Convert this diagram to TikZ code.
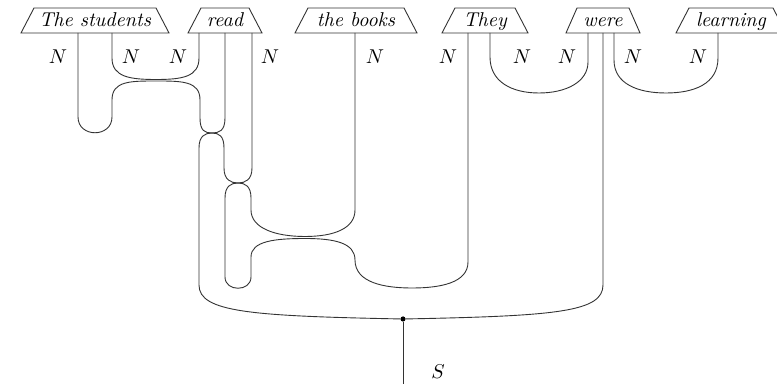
\documentclass[tikz,border=0pt]{standalone}
\begin{document}
\begin{tikzpicture}[x=0.5pt,y=-0.5pt,
  wire/.style={line width=0.45pt,draw=black!80},
  boxline/.style={line width=0.45pt,draw=black!80},
  wordtext/.style={anchor=base,inner sep=0pt,font=\itshape},
  typelabel/.style={inner sep=0pt},
  spider/.style={circle,fill=black,inner sep=0pt,minimum size=2.6pt}]
\useasboundingbox (0,0) rectangle (777,384);

% word boxes: centre, half top width, half bottom width
\newcommand\wordbox[5]{%
  \draw[boxline] (#2-#3,8) -- (#2+#3,8) -- (#2+#4,33) -- (#2-#4,33) -- cycle;
  \node[wordtext] (#1) at (#2,27) {#5};}
\wordbox{students}{95}{61}{74}{The students}
\wordbox{read}{225}{24}{37}{read}
\wordbox{books}{356}{48}{61}{the books}
\wordbox{they}{485}{30}{43}{They}
\wordbox{were}{603}{26}{37}{were}
\wordbox{learning}{731}{42}{55}{learning}

% wire ends under the boxes
\coordinate (s1) at (78,33);  \coordinate (s2) at (112,33);
\coordinate (r1) at (199,33); \coordinate (r2) at (225,33); \coordinate (r3) at (252,33);
\coordinate (b1) at (355,33);
\coordinate (t1) at (468,33); \coordinate (t2) at (490,33);
\coordinate (w1) at (588,33); \coordinate (w2) at (603,33); \coordinate (w3) at (614,33);
\coordinate (l1) at (718,33);

% junctions
\coordinate (j1) at (212,133);
\coordinate (j2) at (238,183);
\node[spider] (dot) at (403,319) {};
\coordinate (out) at (403,390);

% type labels
\foreach \x/\n in {58/a,131/b,178/c,270/d,375/e,448/f,522/g,567/h,633/i,698/j}
  \node[typelabel] (lab\n) at (\x,57) {$N$};
\node[typelabel] (labS) at (438,372) {$S$};

% students: cup, then up over to the lens
\draw[wire] (s1) -- (78,117) .. controls (78,138) and (112,138) .. (112,117)
  -- (112,100) .. controls (112,81) and (130,81) .. (156,81)
  .. controls (182,81) and (200,81) .. (200,100) -- (200,118)
  .. controls (200,131) and (205,133) .. (j1);
% cap between students and read
\draw[wire] (s2) -- (112,58) .. controls (112,77) and (130,79.5) .. (156,79.5)
  .. controls (182,79.5) and (199,77) .. (199,58) -- (r1);
% read, middle wire
\draw[wire] (r2) -- (225,118) .. controls (225,131) and (219,133) .. (j1);
% lens 1 outputs
\draw[wire] (j1) .. controls (205,133) and (199,136) .. (199,148) -- (199,285)
  .. controls (199,312) and (250,316) .. (dot);
\draw[wire] (j1) .. controls (219,133) and (224,136) .. (224,148) -- (224,168)
  .. controls (224,180) and (231,183) .. (j2);
% read, right wire
\draw[wire] (r3) -- (252,168) .. controls (252,180) and (245,183) .. (j2);
% lens 2 outputs
\draw[wire] (j2) .. controls (231,183) and (225,186) .. (225,198) -- (225,277)
  .. controls (225,292) and (251,292) .. (251,277) -- (251,257)
  .. controls (251,241) and (275,238.5) .. (305,238.5)
  .. controls (335,238.5) and (355,243) .. (355,260)
  .. controls (355,283) and (385,288) .. (412,288)
  .. controls (440,288) and (468,283) .. (468,262) -- (t1);
\draw[wire] (j2) .. controls (245,183) and (251,186) .. (251,198) -- (251,210)
  .. controls (251,228) and (275,236.5) .. (305,236.5)
  .. controls (335,236.5) and (355,228) .. (355,210) -- (b1);
% were, middle wire
\draw[wire] (w2) -- (603,285) .. controls (603,312) and (556,316) .. (dot);
% sentence wire
\draw[wire] (dot) -- (out);
% cups on the right
\draw[wire] (t2) -- (490,57) .. controls (490,82) and (512,93) .. (539,93)
  .. controls (566,93) and (588,82) .. (588,62) -- (w1);
\draw[wire] (w3) -- (614,60) .. controls (614,84) and (638,93) .. (666,93)
  .. controls (694,93) and (718,84) .. (718,58) -- (l1);
\end{tikzpicture}
\end{document}
